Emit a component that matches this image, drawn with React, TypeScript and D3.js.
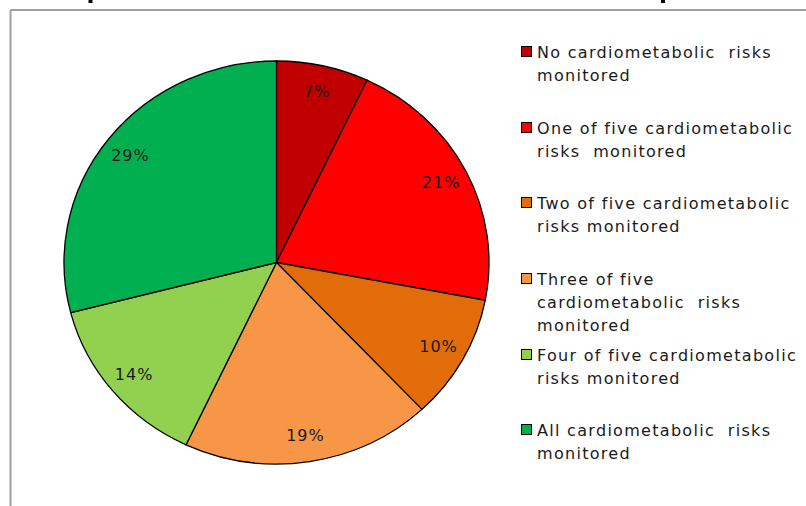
import React from "react";
import * as d3 from "d3";

const categories = [
  "No cardiometabolic risks monitored",
  "One of five cardiometabolic risks monitored",
  "Two of five cardiometabolic risks monitored",
  "Three of five cardiometabolic risks monitored",
  "Four of five cardiometabolic risks monitored",
  "All cardiometabolic risks monitored",
];
const values = [7, 21, 10, 19, 14, 29];
const colors = ["#C00000", "#FF0000", "#E36C0A", "#F79646", "#92D050", "#00B050"];
const legendLines = [
  ["No cardiometabolic  risks", "monitored"],
  ["One of five cardiometabolic", "risks  monitored"],
  ["Two of five cardiometabolic", "risks monitored"],
  ["Three of five", "cardiometabolic  risks", "monitored"],
  ["Four of five cardiometabolic", "risks monitored"],
  ["All cardiometabolic  risks", "monitored"],
];
const legendTops = [52, 128, 203, 279, 355, 430];

const W = 806;
const H = 506;
const cx = 276.5;
const cy = 262.5;
const rx = 212.5;
const ry = 201.5;
const font = "Verdana, 'DejaVu Sans', sans-serif";

export default function App() {
  const pie = d3.pie<number>().sort(null).value((d) => d);
  const arcs = pie(values);
  const arc = d3.arc<d3.PieArcDatum<number>>().innerRadius(0).outerRadius(rx);
  const labelArc = d3.arc<d3.PieArcDatum<number>>().innerRadius(rx * 0.87).outerRadius(rx * 0.87);
  const sy = ry / rx;
  return (
    <svg width={W} height={H} style={{ position: "absolute", left: 0, top: 0, background: "#fff" }}>
      <rect x={88.5} y={0} width={4} height={3} fill="#000" />
      <rect x={661} y={0} width={4} height={3} fill="#000" />
      <line x1={10.5} y1={10} x2={W} y2={10} stroke="#a0a0a0" strokeWidth={2} />
      <line x1={10.5} y1={10} x2={10.5} y2={H} stroke="#a0a0a0" strokeWidth={2} />
      <g transform={`translate(${cx},${cy}) scale(1,${sy})`}>
        {arcs.map((a, i) => (
          <path
            key={i}
            d={arc(a) || ""}
            fill={colors[i]}
            stroke="#000"
            strokeWidth={1.3}
            vectorEffect="non-scaling-stroke"
          />
        ))}
      </g>
      {arcs.map((a, i) => {
        const [lx, ly] = labelArc.centroid(a);
        return (
          <text
            key={i}
            x={cx + lx}
            y={cy + ly * sy}
            textAnchor="middle"
            dominantBaseline="central"
            fontFamily={font}
            fontSize={16}
            letterSpacing={1}
            fill="#1a1a1a"
          >
            {values[i]}%
          </text>
        );
      })}
      {categories.map((c, i) => (
        <g key={c}>
          <rect
            x={521.5}
            y={legendTops[i] - 5.5}
            width={10}
            height={10}
            fill={colors[i]}
            stroke="#000"
            strokeWidth={1}
          />
          {legendLines[i].map((ln, j) => (
            <text
              key={j}
              x={537}
              y={legendTops[i] + j * 23}
              dominantBaseline="central"
              fontFamily={font}
              fontSize={16}
              letterSpacing={1.3}
              fill="#1a1a1a"
              style={{ whiteSpace: "pre" }}
            >
              {ln}
            </text>
          ))}
        </g>
      ))}
    </svg>
  );
}
